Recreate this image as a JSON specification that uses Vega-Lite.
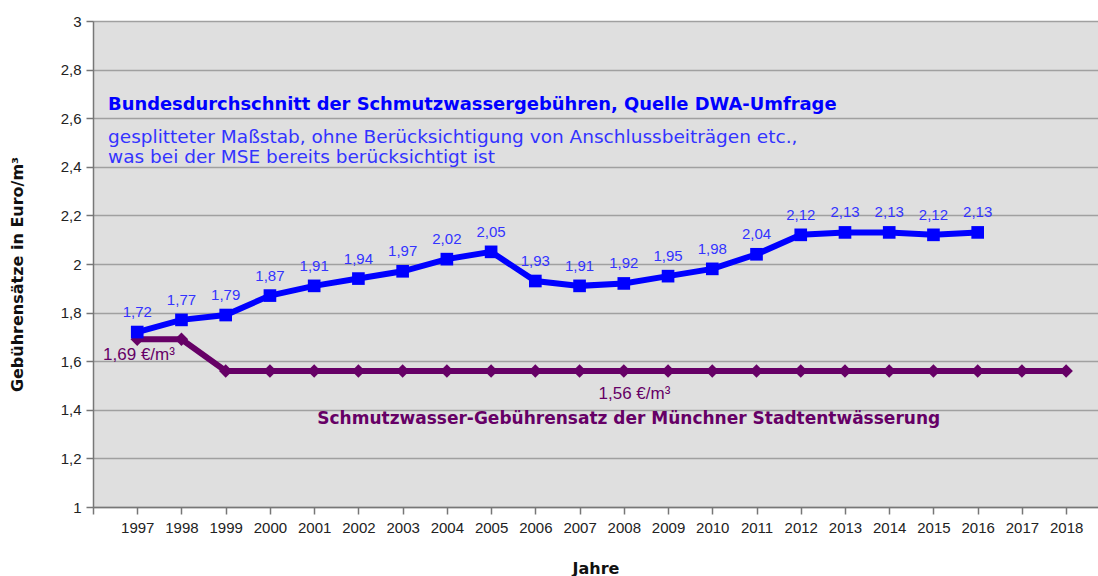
{
  "$schema": "https://vega.github.io/schema/vega-lite/v6.json",
  "width": 1005,
  "height": 486,
  "autosize": {"type": "none"},
  "padding": {"left": 93, "top": 21, "right": 0, "bottom": 69},
  "background": "white",
  "config": {
    "view": {"fill": "#dfdfdf", "stroke": null},
    "font": "Liberation Sans",
    "axis": {
      "domainColor": "#777777", "domainWidth": 1.5,
      "tickColor": "#777777", "tickWidth": 1.5, "tickSize": 7,
      "labelFontSize": 15, "labelColor": "#222222",
      "titleFont": "DejaVu Sans", "titleFontSize": 16, "titleFontWeight": "bold", "titleColor": "#111111"
    }
  },
  "datasets": {
    "dwa": [
      {"Jahr": 1997, "Wert": 1.72}, {"Jahr": 1998, "Wert": 1.77}, {"Jahr": 1999, "Wert": 1.79},
      {"Jahr": 2000, "Wert": 1.87}, {"Jahr": 2001, "Wert": 1.91}, {"Jahr": 2002, "Wert": 1.94},
      {"Jahr": 2003, "Wert": 1.97}, {"Jahr": 2004, "Wert": 2.02}, {"Jahr": 2005, "Wert": 2.05},
      {"Jahr": 2006, "Wert": 1.93}, {"Jahr": 2007, "Wert": 1.91}, {"Jahr": 2008, "Wert": 1.92},
      {"Jahr": 2009, "Wert": 1.95}, {"Jahr": 2010, "Wert": 1.98}, {"Jahr": 2011, "Wert": 2.04},
      {"Jahr": 2012, "Wert": 2.12}, {"Jahr": 2013, "Wert": 2.13}, {"Jahr": 2014, "Wert": 2.13},
      {"Jahr": 2015, "Wert": 2.12}, {"Jahr": 2016, "Wert": 2.13}
    ],
    "mse": [
      {"Jahr": 1997, "Wert": 1.69}, {"Jahr": 1998, "Wert": 1.69}, {"Jahr": 1999, "Wert": 1.56},
      {"Jahr": 2000, "Wert": 1.56}, {"Jahr": 2001, "Wert": 1.56}, {"Jahr": 2002, "Wert": 1.56},
      {"Jahr": 2003, "Wert": 1.56}, {"Jahr": 2004, "Wert": 1.56}, {"Jahr": 2005, "Wert": 1.56},
      {"Jahr": 2006, "Wert": 1.56}, {"Jahr": 2007, "Wert": 1.56}, {"Jahr": 2008, "Wert": 1.56},
      {"Jahr": 2009, "Wert": 1.56}, {"Jahr": 2010, "Wert": 1.56}, {"Jahr": 2011, "Wert": 1.56},
      {"Jahr": 2012, "Wert": 1.56}, {"Jahr": 2013, "Wert": 1.56}, {"Jahr": 2014, "Wert": 1.56},
      {"Jahr": 2015, "Wert": 1.56}, {"Jahr": 2016, "Wert": 1.56}, {"Jahr": 2017, "Wert": 1.56},
      {"Jahr": 2018, "Wert": 1.56}
    ]
  },
  "layer": [
    {
      "data": {"name": "mse"},
      "mark": {"type": "line", "color": "#660066", "strokeWidth": 6},
      "encoding": {
        "x": {
          "field": "Jahr", "type": "quantitative",
          "scale": {"domain": [1996, 2018.72], "nice": false, "zero": false},
          "axis": {
            "values": [1996, 1997, 1998, 1999, 2000, 2001, 2002, 2003, 2004, 2005, 2006, 2007, 2008, 2009, 2010, 2011, 2012, 2013, 2014, 2015, 2016, 2017, 2018],
            "format": "d",
            "labelExpr": "datum.value == 1996 ? '' : datum.label",
            "labelFlush": false, "labelOverlap": false, "labelPadding": 6,
            "grid": false,
            "title": "Jahre", "titleBaseline": "middle", "titleY": 61
          }
        },
        "y": {
          "field": "Wert", "type": "quantitative",
          "scale": {"domain": [1, 3], "nice": false, "zero": false},
          "axis": {
            "values": [1, 1.2, 1.4, 1.6, 1.8, 2, 2.2, 2.4, 2.6, 2.8, 3],
            "labelExpr": "replace(format(datum.value, '.1~f'), '.', ',')",
            "grid": true, "gridColor": "#a0a0a0", "gridWidth": 1.5,
            "labelPadding": 5,
            "title": "Gebührensätze in Euro/m³",
            "titleX": -76, "titleY": 253, "titleAlign": "center", "titleBaseline": "middle"
          }
        }
      }
    },
    {
      "data": {"name": "mse"},
      "mark": {"type": "point", "shape": "diamond", "filled": true, "color": "#660066", "size": 180, "opacity": 1},
      "encoding": {
        "x": {"field": "Jahr", "type": "quantitative", "scale": {"domain": [1996, 2018.72], "nice": false, "zero": false}},
        "y": {"field": "Wert", "type": "quantitative", "scale": {"domain": [1, 3], "nice": false, "zero": false}}
      }
    },
    {
      "data": {"name": "dwa"},
      "mark": {"type": "line", "color": "#0000ff", "strokeWidth": 6},
      "encoding": {
        "x": {"field": "Jahr", "type": "quantitative", "scale": {"domain": [1996, 2018.72], "nice": false, "zero": false}},
        "y": {"field": "Wert", "type": "quantitative", "scale": {"domain": [1, 3], "nice": false, "zero": false}}
      }
    },
    {
      "data": {"name": "dwa"},
      "mark": {"type": "point", "shape": "square", "filled": true, "color": "#0000ff", "size": 160, "opacity": 1},
      "encoding": {
        "x": {"field": "Jahr", "type": "quantitative", "scale": {"domain": [1996, 2018.72], "nice": false, "zero": false}},
        "y": {"field": "Wert", "type": "quantitative", "scale": {"domain": [1, 3], "nice": false, "zero": false}}
      }
    },
    {
      "data": {"name": "dwa"},
      "transform": [{"calculate": "replace(format(datum.Wert, '.2f'), '.', ',')", "as": "Label"}],
      "mark": {"type": "text", "color": "#3333ff", "fontSize": 15, "baseline": "middle", "dy": -20},
      "encoding": {
        "x": {"field": "Jahr", "type": "quantitative", "scale": {"domain": [1996, 2018.72], "nice": false, "zero": false}},
        "y": {"field": "Wert", "type": "quantitative", "scale": {"domain": [1, 3], "nice": false, "zero": false}},
        "text": {"field": "Label", "type": "nominal"}
      }
    },
    {
      "data": {"values": [{}]},
      "mark": {"type": "text", "text": "Bundesdurchschnitt der Schmutzwassergebühren, Quelle DWA-Umfrage", "font": "DejaVu Sans", "fontWeight": "bold", "fontSize": 17.9, "color": "#0000ff", "align": "left", "baseline": "middle"},
      "encoding": {"x": {"datum": 1996.34, "type": "quantitative"}, "y": {"datum": 2.654, "type": "quantitative"}}
    },
    {
      "data": {"values": [{}]},
      "mark": {"type": "text", "text": ["gesplitteter Maßstab, ohne Berücksichtigung von Anschlussbeiträgen etc.,", "was bei der MSE bereits berücksichtigt ist"], "font": "DejaVu Sans", "fontSize": 18.5, "lineHeight": 20, "color": "#3333ff", "align": "left", "baseline": "middle"},
      "encoding": {"x": {"datum": 1996.34, "type": "quantitative"}, "y": {"datum": 2.521, "type": "quantitative"}}
    },
    {
      "data": {"values": [{}]},
      "mark": {"type": "text", "text": "Schmutzwasser-Gebührensatz der Münchner Stadtentwässerung", "font": "DejaVu Sans", "fontWeight": "bold", "fontSize": 17, "color": "#660066", "align": "left", "baseline": "middle"},
      "encoding": {"x": {"datum": 2001.07, "type": "quantitative"}, "y": {"datum": 1.362, "type": "quantitative"}}
    },
    {
      "data": {"values": [{}]},
      "mark": {"type": "text", "text": "1,69 €/m³", "fontSize": 17, "color": "#660066", "align": "center", "baseline": "middle"},
      "encoding": {"x": {"datum": 1997.04, "type": "quantitative"}, "y": {"datum": 1.626, "type": "quantitative"}}
    },
    {
      "data": {"values": [{}]},
      "mark": {"type": "text", "text": "1,56 €/m³", "fontSize": 17, "color": "#660066", "align": "center", "baseline": "middle"},
      "encoding": {"x": {"datum": 2008.24, "type": "quantitative"}, "y": {"datum": 1.465, "type": "quantitative"}}
    }
  ]
}
